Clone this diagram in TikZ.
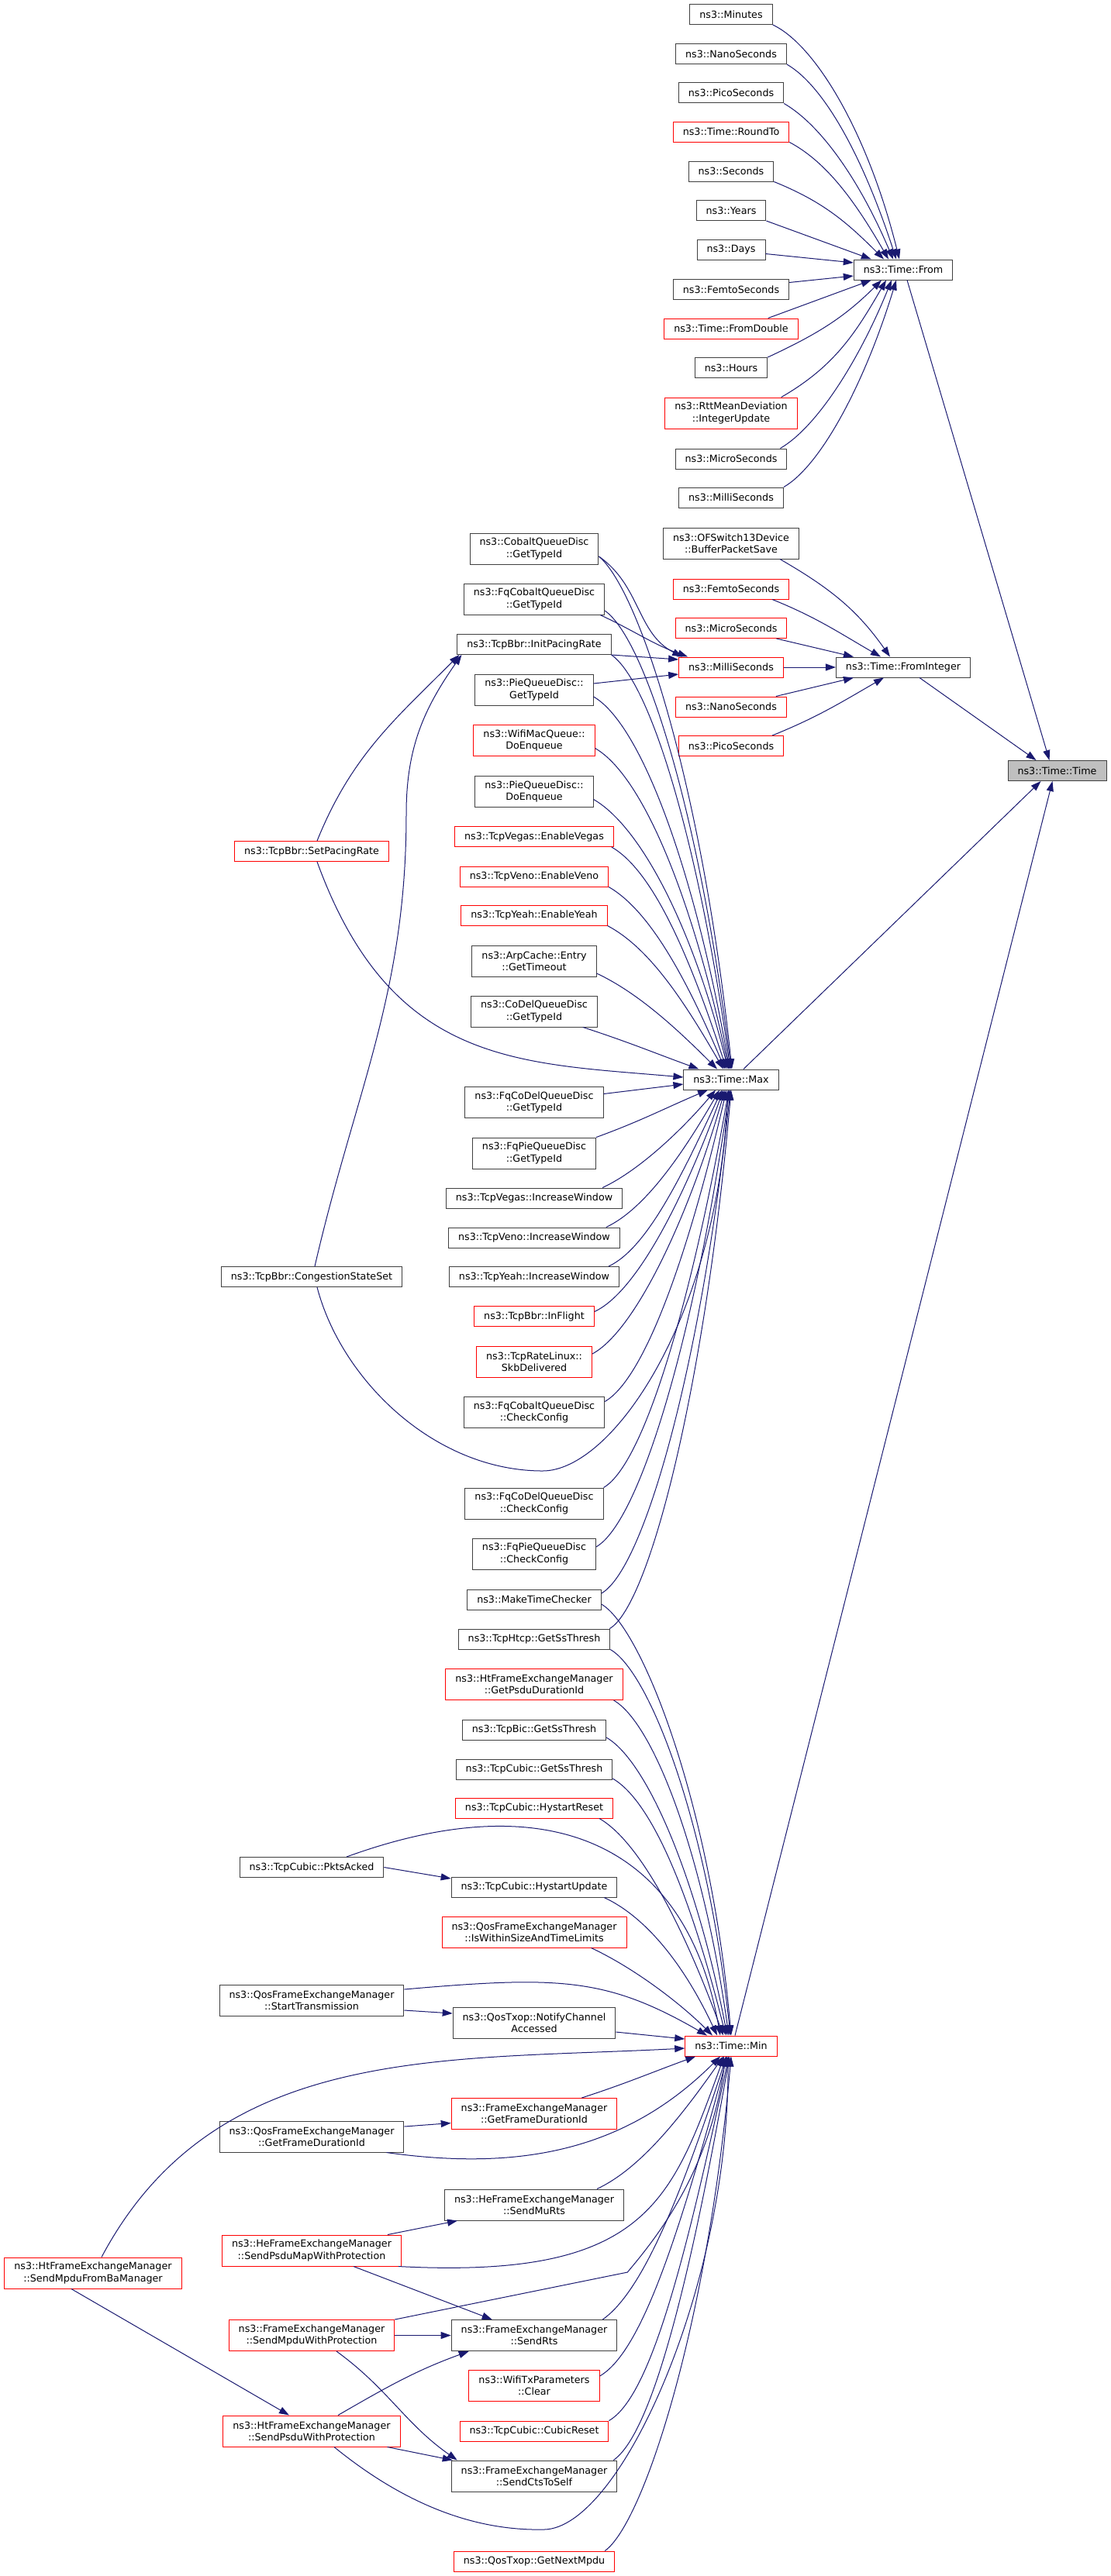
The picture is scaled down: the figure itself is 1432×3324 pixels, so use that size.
\documentclass[tikz,border=0pt]{standalone}
\usepackage{fontspec}
\setmainfont{DejaVu Sans}
\usepackage{xcolor}
\usepackage{tikz}
\usetikzlibrary{arrows.meta}
\definecolor{edgeblue}{HTML}{191970}
\definecolor{boxgray}{HTML}{404040}
\definecolor{rootgray}{HTML}{BFBFBF}

\begin{document}
\begin{tikzpicture}[x=1pt,y=1pt,
    fn/.style={draw=boxgray,line width=1pt,inner xsep=12.5pt,inner ysep=2pt,minimum height=26pt,align=center,font=\fontsize{12.7}{15.4}\selectfont},
    two/.style={minimum height=40pt},
    cut/.style={draw=red},
    root/.style={fill=rootgray},
    call/.style={draw=edgeblue,line width=1pt,-{Triangle[length=13pt,width=9pt]}}]
    \useasboundingbox (0,0) rectangle (1432,-3324);

    % callers of From
    \node[fn] (minutes) at (943,-18.5) {ns3::Minutes};
    \node[fn] (nanoA) at (943,-69.5) {ns3::NanoSeconds};
    \node[fn] (picoA) at (943,-120) {ns3::PicoSeconds};
    \node[fn,cut] (roundto) at (943,-170) {ns3::Time::RoundTo};
    \node[fn] (seconds) at (943,-221) {ns3::Seconds};
    \node[fn] (years) at (943,-271.5) {ns3::Years};
    \node[fn] (days) at (943,-322.5) {ns3::Days};
    \node[fn] (femtoA) at (943,-373.5) {ns3::FemtoSeconds};
    \node[fn,cut] (fromdbl) at (943,-424) {ns3::Time::FromDouble};
    \node[fn] (hours) at (943,-474.5) {ns3::Hours};
    \node[fn,two,cut] (rttmd) at (943,-533) {ns3::RttMeanDeviation\\::IntegerUpdate};
    \node[fn] (microA) at (943,-592) {ns3::MicroSeconds};
    \node[fn] (milliA) at (943,-642) {ns3::MilliSeconds};
    \node[fn] (from) at (1165,-348) {ns3::Time::From};

    % callers of FromInteger
    \node[fn,two] (ofs) at (943,-701) {ns3::OFSwitch13Device\\::BufferPacketSave};
    \node[fn,cut] (femtoB) at (943,-760) {ns3::FemtoSeconds};
    \node[fn,cut] (microB) at (943,-810.5) {ns3::MicroSeconds};
    \node[fn,cut] (milliB) at (943,-861) {ns3::MilliSeconds};
    \node[fn,cut] (nanoB) at (943,-912) {ns3::NanoSeconds};
    \node[fn,cut] (picoB) at (943,-962.5) {ns3::PicoSeconds};
    \node[fn] (fromint) at (1165,-861) {ns3::Time::FromInteger};
    \node[fn,root] (tt) at (1363.5,-994.5) {ns3::Time::Time};

    % callers of Max and Min
    \node[fn,two] (cobalt) at (689,-708) {ns3::CobaltQueueDisc\\::GetTypeId};
    \node[fn,two] (fqcobalt) at (689,-773) {ns3::FqCobaltQueueDisc\\::GetTypeId};
    \node[fn] (initpr) at (689,-831.5) {ns3::TcpBbr::InitPacingRate};
    \node[fn,two] (piegt) at (689,-890) {ns3::PieQueueDisc::\\GetTypeId};
    \node[fn,two,cut] (wifimq) at (689,-955.5) {ns3::WifiMacQueue::\\DoEnqueue};
    \node[fn,two] (piede) at (689,-1021.5) {ns3::PieQueueDisc::\\DoEnqueue};
    \node[fn,cut] (vegasen) at (689,-1079.5) {ns3::TcpVegas::EnableVegas};
    \node[fn,cut] (venoen) at (689,-1131) {ns3::TcpVeno::EnableVeno};
    \node[fn,cut] (yeahen) at (689,-1181) {ns3::TcpYeah::EnableYeah};
    \node[fn,two] (arp) at (689,-1240) {ns3::ArpCache::Entry\\::GetTimeout};
    \node[fn,two] (codelgt) at (689,-1305) {ns3::CoDelQueueDisc\\::GetTypeId};
    \node[fn] (max) at (943,-1393) {ns3::Time::Max};
    \node[fn,two] (fqcodelgt) at (689,-1422.5) {ns3::FqCoDelQueueDisc\\::GetTypeId};
    \node[fn,two] (fqpiegt) at (689,-1488) {ns3::FqPieQueueDisc\\::GetTypeId};
    \node[fn] (vegasiw) at (689,-1546) {ns3::TcpVegas::IncreaseWindow};
    \node[fn] (venoiw) at (689,-1597) {ns3::TcpVeno::IncreaseWindow};
    \node[fn] (yeahiw) at (689,-1647.5) {ns3::TcpYeah::IncreaseWindow};
    \node[fn,cut] (inflight) at (689,-1698.5) {ns3::TcpBbr::InFlight};
    \node[fn,two,cut] (skb) at (689,-1757) {ns3::TcpRateLinux::\\SkbDelivered};
    \node[fn,two] (fqcobaltcc) at (689,-1822.5) {ns3::FqCobaltQueueDisc\\::CheckConfig};
    \node[fn,two] (fqcodelcc) at (689,-1940) {ns3::FqCoDelQueueDisc\\::CheckConfig};
    \node[fn,two] (fqpiecc) at (689,-2005) {ns3::FqPieQueueDisc\\::CheckConfig};
    \node[fn] (mtc) at (689,-2064) {ns3::MakeTimeChecker};
    \node[fn] (htcp) at (689,-2115) {ns3::TcpHtcp::GetSsThresh};
    \node[fn,two,cut] (psdudur) at (689,-2173.5) {ns3::HtFrameExchangeManager\\::GetPsduDurationId};
    \node[fn] (bic) at (689,-2232) {ns3::TcpBic::GetSsThresh};
    \node[fn] (cubicss) at (689,-2283) {ns3::TcpCubic::GetSsThresh};
    \node[fn,cut] (hyreset) at (689,-2333) {ns3::TcpCubic::HystartReset};
    \node[fn] (hyupdate) at (689,-2435) {ns3::TcpCubic::HystartUpdate};
    \node[fn,two,cut] (iswithin) at (689,-2493) {ns3::QosFrameExchangeManager\\::IsWithinSizeAndTimeLimits};
    \node[fn,two] (notify) at (689,-2610) {ns3::QosTxop::NotifyChannel\\Accessed};
    \node[fn,cut] (min) at (943,-2640) {ns3::Time::Min};
    \node[fn,two,cut] (femgfd) at (689,-2727.5) {ns3::FrameExchangeManager\\::GetFrameDurationId};
    \node[fn,two] (murts) at (689,-2845) {ns3::HeFrameExchangeManager\\::SendMuRts};
    \node[fn,two] (sendrts) at (689,-3013.5) {ns3::FrameExchangeManager\\::SendRts};
    \node[fn,two,cut] (clear) at (689,-3078) {ns3::WifiTxParameters\\::Clear};
    \node[fn,cut] (cubicreset) at (689,-3137) {ns3::TcpCubic::CubicReset};
    \node[fn,two] (ctsself) at (689,-3195) {ns3::FrameExchangeManager\\::SendCtsToSelf};
    \node[fn,cut] (nextmpdu) at (689,-3305) {ns3::QosTxop::GetNextMpdu};

    \node[fn,cut] (setpr) at (402,-1098.5) {ns3::TcpBbr::SetPacingRate};
    \node[fn] (css) at (402,-1647.5) {ns3::TcpBbr::CongestionStateSet};
    \node[fn] (pktsacked) at (402,-2409.5) {ns3::TcpCubic::PktsAcked};
    \node[fn,two] (starttx) at (402,-2581) {ns3::QosFrameExchangeManager\\::StartTransmission};
    \node[fn,two] (qosgfd) at (402,-2757) {ns3::QosFrameExchangeManager\\::GetFrameDurationId};
    \node[fn,two,cut] (psdumap) at (402,-2904) {ns3::HeFrameExchangeManager\\::SendPsduMapWithProtection};
    \node[fn,two,cut] (mpduprot) at (402,-3013.5) {ns3::FrameExchangeManager\\::SendMpduWithProtection};
    \node[fn,two,cut] (psduprot) at (402,-3137) {ns3::HtFrameExchangeManager\\::SendPsduWithProtection};
    \node[fn,two,cut] (frombam) at (120,-2933) {ns3::HtFrameExchangeManager\\::SendMpduFromBaManager};

    % into From
    \draw[call] (minutes.south east) to[out=-25,in=104,out distance=60pt,in distance=170pt] ([xshift=-5pt]from.north);
    \draw[call] (nanoA.south east) to[out=-30,in=108,out distance=55pt,in distance=140pt] ([xshift=-9pt]from.north);
    \draw[call] (picoA.south east) to[out=-30,in=113,out distance=55pt,in distance=110pt] ([xshift=-13pt]from.north);
    \draw[call] (roundto.south east) to[out=-28,in=120,out distance=55pt,in distance=85pt] ([xshift=-19pt]from.north);
    \draw[call] (seconds.south east) to[out=-22,in=135] ([xshift=-25pt]from.north);
    \draw[call] (years.south east) -- ([xshift=23pt]from.north west);
    \draw[call] ([yshift=-5pt]days.east) -- ([yshift=9pt]from.west);
    \draw[call] ([yshift=9pt]femtoA.east) -- ([yshift=-8pt]from.west);
    \draw[call] ([xshift=-39pt]fromdbl.north east) -- ([xshift=23pt]from.south west);
    \draw[call] (hours.north east) to[out=25,in=225] ([xshift=-28pt]from.south);
    \draw[call] ([xshift=-21pt]rttmd.north east) to[out=30,in=240] ([xshift=-22pt]from.south);
    \draw[call] ([xshift=-9pt]microA.north east) to[out=30,in=248,out distance=55pt,in distance=110pt] ([xshift=-15pt]from.south);
    \draw[call] (milliA.north east) to[out=30,in=253,out distance=55pt,in distance=140pt] ([xshift=-9pt]from.south);

    % into FromInteger
    \draw[call] ([xshift=-25pt]ofs.south east) to[out=-30,in=125] ([xshift=-17pt]fromint.north);
    \draw[call] ([xshift=-22pt]femtoB.south east) to[out=-22,in=150] ([xshift=-29pt]fromint.north);
    \draw[call] ([xshift=-14pt]microB.south east) -- ([xshift=23pt]fromint.north west);
    \draw[call] (milliB.east) -- (fromint.west);
    \draw[call] ([xshift=-14pt]nanoB.north east) -- ([xshift=23pt]fromint.south west);
    \draw[call] ([xshift=-15pt]picoB.north east) to[out=22,in=210] ([xshift=-25pt]fromint.south);

    % into Time
    \draw[call] ([xshift=5pt]from.south) -- ([xshift=-10pt]tt.north);
    \draw[call] ([xshift=21pt]fromint.south) -- ([xshift=-27pt]tt.north);
    \draw[call] ([xshift=16pt]max.north) -- ([xshift=-21pt]tt.south);
    \draw[call] ([xshift=5pt]min.north) -- ([xshift=-6pt]tt.south);

    % into MilliSeconds
    \draw[call] ([yshift=-10pt]cobalt.east) to[out=-35,in=153] ([xshift=5pt]milliB.north west);
    \draw[call] ([xshift=-6pt]fqcobalt.south east) to[out=-25,in=160] ([xshift=12pt]milliB.north west);
    \draw[call] (initpr.south east) -- ([yshift=10pt]milliB.west);
    \draw[call] ([yshift=8pt]piegt.east) -- ([yshift=-9pt]milliB.west);

    % into InitPacingRate
    \draw[call] ([xshift=7pt]setpr.north) to[out=68,in=225] ([xshift=3pt]initpr.south west);
    \draw[call] ([xshift=4pt]css.north) to[out=77,in=-90] (524,-1050) to[out=90,in=235] ([xshift=6pt]initpr.south west);

    % into Max
    \draw[call] ([yshift=-10pt]cobalt.east) to[out=-40,in=96,out distance=70pt,in distance=360pt] ([xshift=1pt]max.north);
    \draw[call] ([yshift=-15pt]fqcobalt.east) to[out=-35,in=97,out distance=65pt,in distance=325pt] (max.north);
    \draw[call] (initpr.south east) to[out=-35,in=98,out distance=62pt,in distance=295pt] ([xshift=-1pt]max.north);
    \draw[call] ([yshift=-9pt]piegt.east) to[out=-30,in=100,out distance=70pt,in distance=265pt] ([xshift=-2pt]max.north);
    \draw[call] ([yshift=-10pt]wifimq.east) to[out=-30,in=102,out distance=70pt,in distance=230pt] ([xshift=-3pt]max.north);
    \draw[call] ([yshift=-10pt]piede.east) to[out=-30,in=104,out distance=70pt,in distance=190pt] ([xshift=-4pt]max.north);
    \draw[call] ([xshift=-3pt]vegasen.south east) to[out=-30,in=108,out distance=60pt,in distance=160pt] ([xshift=-6pt]max.north);
    \draw[call] (venoen.south east) to[out=-30,in=113,out distance=60pt,in distance=130pt] ([xshift=-8pt]max.north);
    \draw[call] (yeahen.south east) to[out=-28,in=120,out distance=60pt,in distance=105pt] ([xshift=-10pt]max.north);
    \draw[call] ([yshift=-16pt]arp.east) to[out=-25,in=135,out distance=60pt,in distance=70pt] ([xshift=-18pt]max.north);
    \draw[call] ([xshift=-19pt]codelgt.south east) to[out=-18,in=160] ([xshift=20pt]max.north west);
    \draw[call] ([xshift=7pt]setpr.south) to[out=-70,in=175,out distance=280pt] ([yshift=3pt]max.west);
    \draw[call] ([yshift=11pt]fqcodelgt.east) -- ([yshift=-6pt]max.west);
    \draw[call] (fqpiegt.north east) to[out=20,in=203] ([xshift=-30pt]max.south);
    \draw[call] ([xshift=-26pt]vegasiw.north east) to[out=25,in=230,out distance=55pt,in distance=60pt] ([xshift=-20pt]max.south);
    \draw[call] ([xshift=-18pt]venoiw.north east) to[out=25,in=240,out distance=55pt,in distance=95pt] ([xshift=-15pt]max.south);
    \draw[call] ([xshift=-14pt]yeahiw.north east) to[out=25,in=245,out distance=55pt,in distance=120pt] ([xshift=-12pt]max.south);
    \draw[call] ([yshift=6pt]inflight.east) to[out=25,in=250,out distance=60pt,in distance=150pt] ([xshift=-10pt]max.south);
    \draw[call] ([yshift=10pt]skb.east) to[out=28,in=254,out distance=60pt,in distance=180pt] ([xshift=-8pt]max.south);
    \draw[call] ([yshift=14pt]fqcobaltcc.east) to[out=30,in=257,out distance=60pt,in distance=215pt] ([xshift=-6pt]max.south);
    \draw[call] ([xshift=7pt]css.south) .. controls (440,-1780) and (560,-1898) .. (700,-1898) .. controls (790,-1898) and (925,-1700) .. ([xshift=-4pt]max.south);
    \draw[call] (fqcodelcc.north east) to[out=30,in=260,out distance=60pt,in distance=280pt] ([xshift=-3pt]max.south);
    \draw[call] ([yshift=9pt]fqpiecc.east) to[out=30,in=262,out distance=65pt,in distance=320pt] ([xshift=-2pt]max.south);
    \draw[call] ([yshift=8pt]mtc.east) to[out=30,in=264,out distance=65pt,in distance=350pt] ([xshift=-1pt]max.south);
    \draw[call] ([xshift=-1pt]htcp.north east) to[out=30,in=265,out distance=60pt,in distance=380pt] (max.south);

    % into Min
    \draw[call] ([yshift=-6pt]mtc.east) to[out=-30,in=95,out distance=60pt,in distance=300pt] (min.north);
    \draw[call] (htcp.south east) to[out=-30,in=96,out distance=60pt,in distance=270pt] ([xshift=-1pt]min.north);
    \draw[call] ([xshift=-12pt]psdudur.south east) to[out=-30,in=98,out distance=60pt,in distance=235pt] ([xshift=-3pt]min.north);
    \draw[call] ([yshift=-10pt]bic.east) to[out=-30,in=101,out distance=60pt,in distance=210pt] ([xshift=-5pt]min.north);
    \draw[call] ([yshift=-12pt]cubicss.east) to[out=-30,in=104,out distance=60pt,in distance=180pt] ([xshift=-7pt]min.north);
    \draw[call] ([xshift=-18pt]hyreset.south east) to[out=-30,in=110,out distance=60pt,in distance=150pt] ([xshift=-10pt]min.north);
    \draw[call] ([xshift=45pt]pktsacked.north) to[out=20,in=100,out distance=280pt,in distance=250pt] ([xshift=-14pt]min.north);
    \draw[call] (pktsacked.east) -- ([yshift=11pt]hyupdate.west);
    \draw[call] ([xshift=-17pt]hyupdate.south east) to[out=-25,in=115,out distance=60pt,in distance=100pt] ([xshift=-18pt]min.north);
    \draw[call] ([xshift=-46pt]iswithin.south east) to[out=-25,in=135,out distance=60pt,in distance=60pt] ([xshift=-24pt]min.north);
    \draw[call] ([yshift=14pt]starttx.east) to[out=5,in=150,out distance=200pt,in distance=150pt] ([xshift=-31pt]min.north);
    \draw[call] ([yshift=-13pt]starttx.east) -- ([yshift=12pt]notify.west);
    \draw[call] ([yshift=-12pt]notify.east) -- ([yshift=9pt]min.west);
    \draw[call] ([xshift=11pt]frombam.north) to[out=62,in=183] ([yshift=-3pt]min.west);
    \draw[call] ([xshift=-46pt]femgfd.north east) to[out=18,in=200] ([xshift=14pt]min.south west);
    \draw[call] ([yshift=13pt]qosgfd.east) -- ([yshift=-12pt]femgfd.west);
    \draw[call] ([xshift=-23pt]qosgfd.south east) to[out=-8,in=225,out distance=170pt,in distance=175pt] ([xshift=-14pt]min.south);
    \draw[call] ([xshift=-35pt]murts.north east) to[out=25,in=235,out distance=60pt,in distance=100pt] ([xshift=-10pt]min.south);
    \draw[call] ([xshift=-18pt]psdumap.north east) -- ([xshift=17pt]murts.south west);
    \draw[call] ([xshift=54pt]psdumap.south) -- ([xshift=53pt]sendrts.north west);
    \draw[call] ([xshift=-4pt]psdumap.south east) to[out=-3,in=250,out distance=320pt,in distance=200pt] ([xshift=-9pt]min.south);
    \draw[call] (mpduprot.east) -- (sendrts.west);
    \draw[call] (mpduprot.north east) -- ++(300,61) to[out=50,in=262,out distance=60pt,in distance=150pt] ([xshift=-7pt]min.south);
    \draw[call] ([xshift=32pt]mpduprot.south) to[out=-36,in=145] ([xshift=8pt]ctsself.north west);
    \draw[call] ([xshift=34pt]psduprot.north) to[out=30,in=200] ([xshift=23pt]sendrts.south west);
    \draw[call] ([xshift=-17pt]psduprot.south east) -- ([xshift=2pt]ctsself.north west);
    \draw[call] ([xshift=29pt]psduprot.south) .. controls (520,-3230) and (610,-3266) .. (702,-3264) .. controls (800,-3262) and (940,-2950) .. ([xshift=-4pt]min.south);
    \draw[call] ([xshift=-28pt]frombam.south) -- ([xshift=-29pt]psduprot.north);
    \draw[call] ([xshift=-19pt]sendrts.north east) to[out=35,in=252,out distance=60pt,in distance=200pt] ([xshift=-6pt]min.south);
    \draw[call] ([yshift=12pt]clear.east) to[out=30,in=255,out distance=60pt,in distance=250pt] ([xshift=-5pt]min.south);
    \draw[call] (cubicreset.north east) to[out=30,in=258,out distance=60pt,in distance=280pt] ([xshift=-3pt]min.south);
    \draw[call] ([xshift=-5pt]ctsself.north east) to[out=35,in=260,out distance=60pt,in distance=300pt] ([xshift=-2pt]min.south);
    \draw[call] ([xshift=-13pt]nextmpdu.north east) to[out=35,in=265,out distance=60pt,in distance=350pt] (min.south);
\end{tikzpicture}
\end{document}
